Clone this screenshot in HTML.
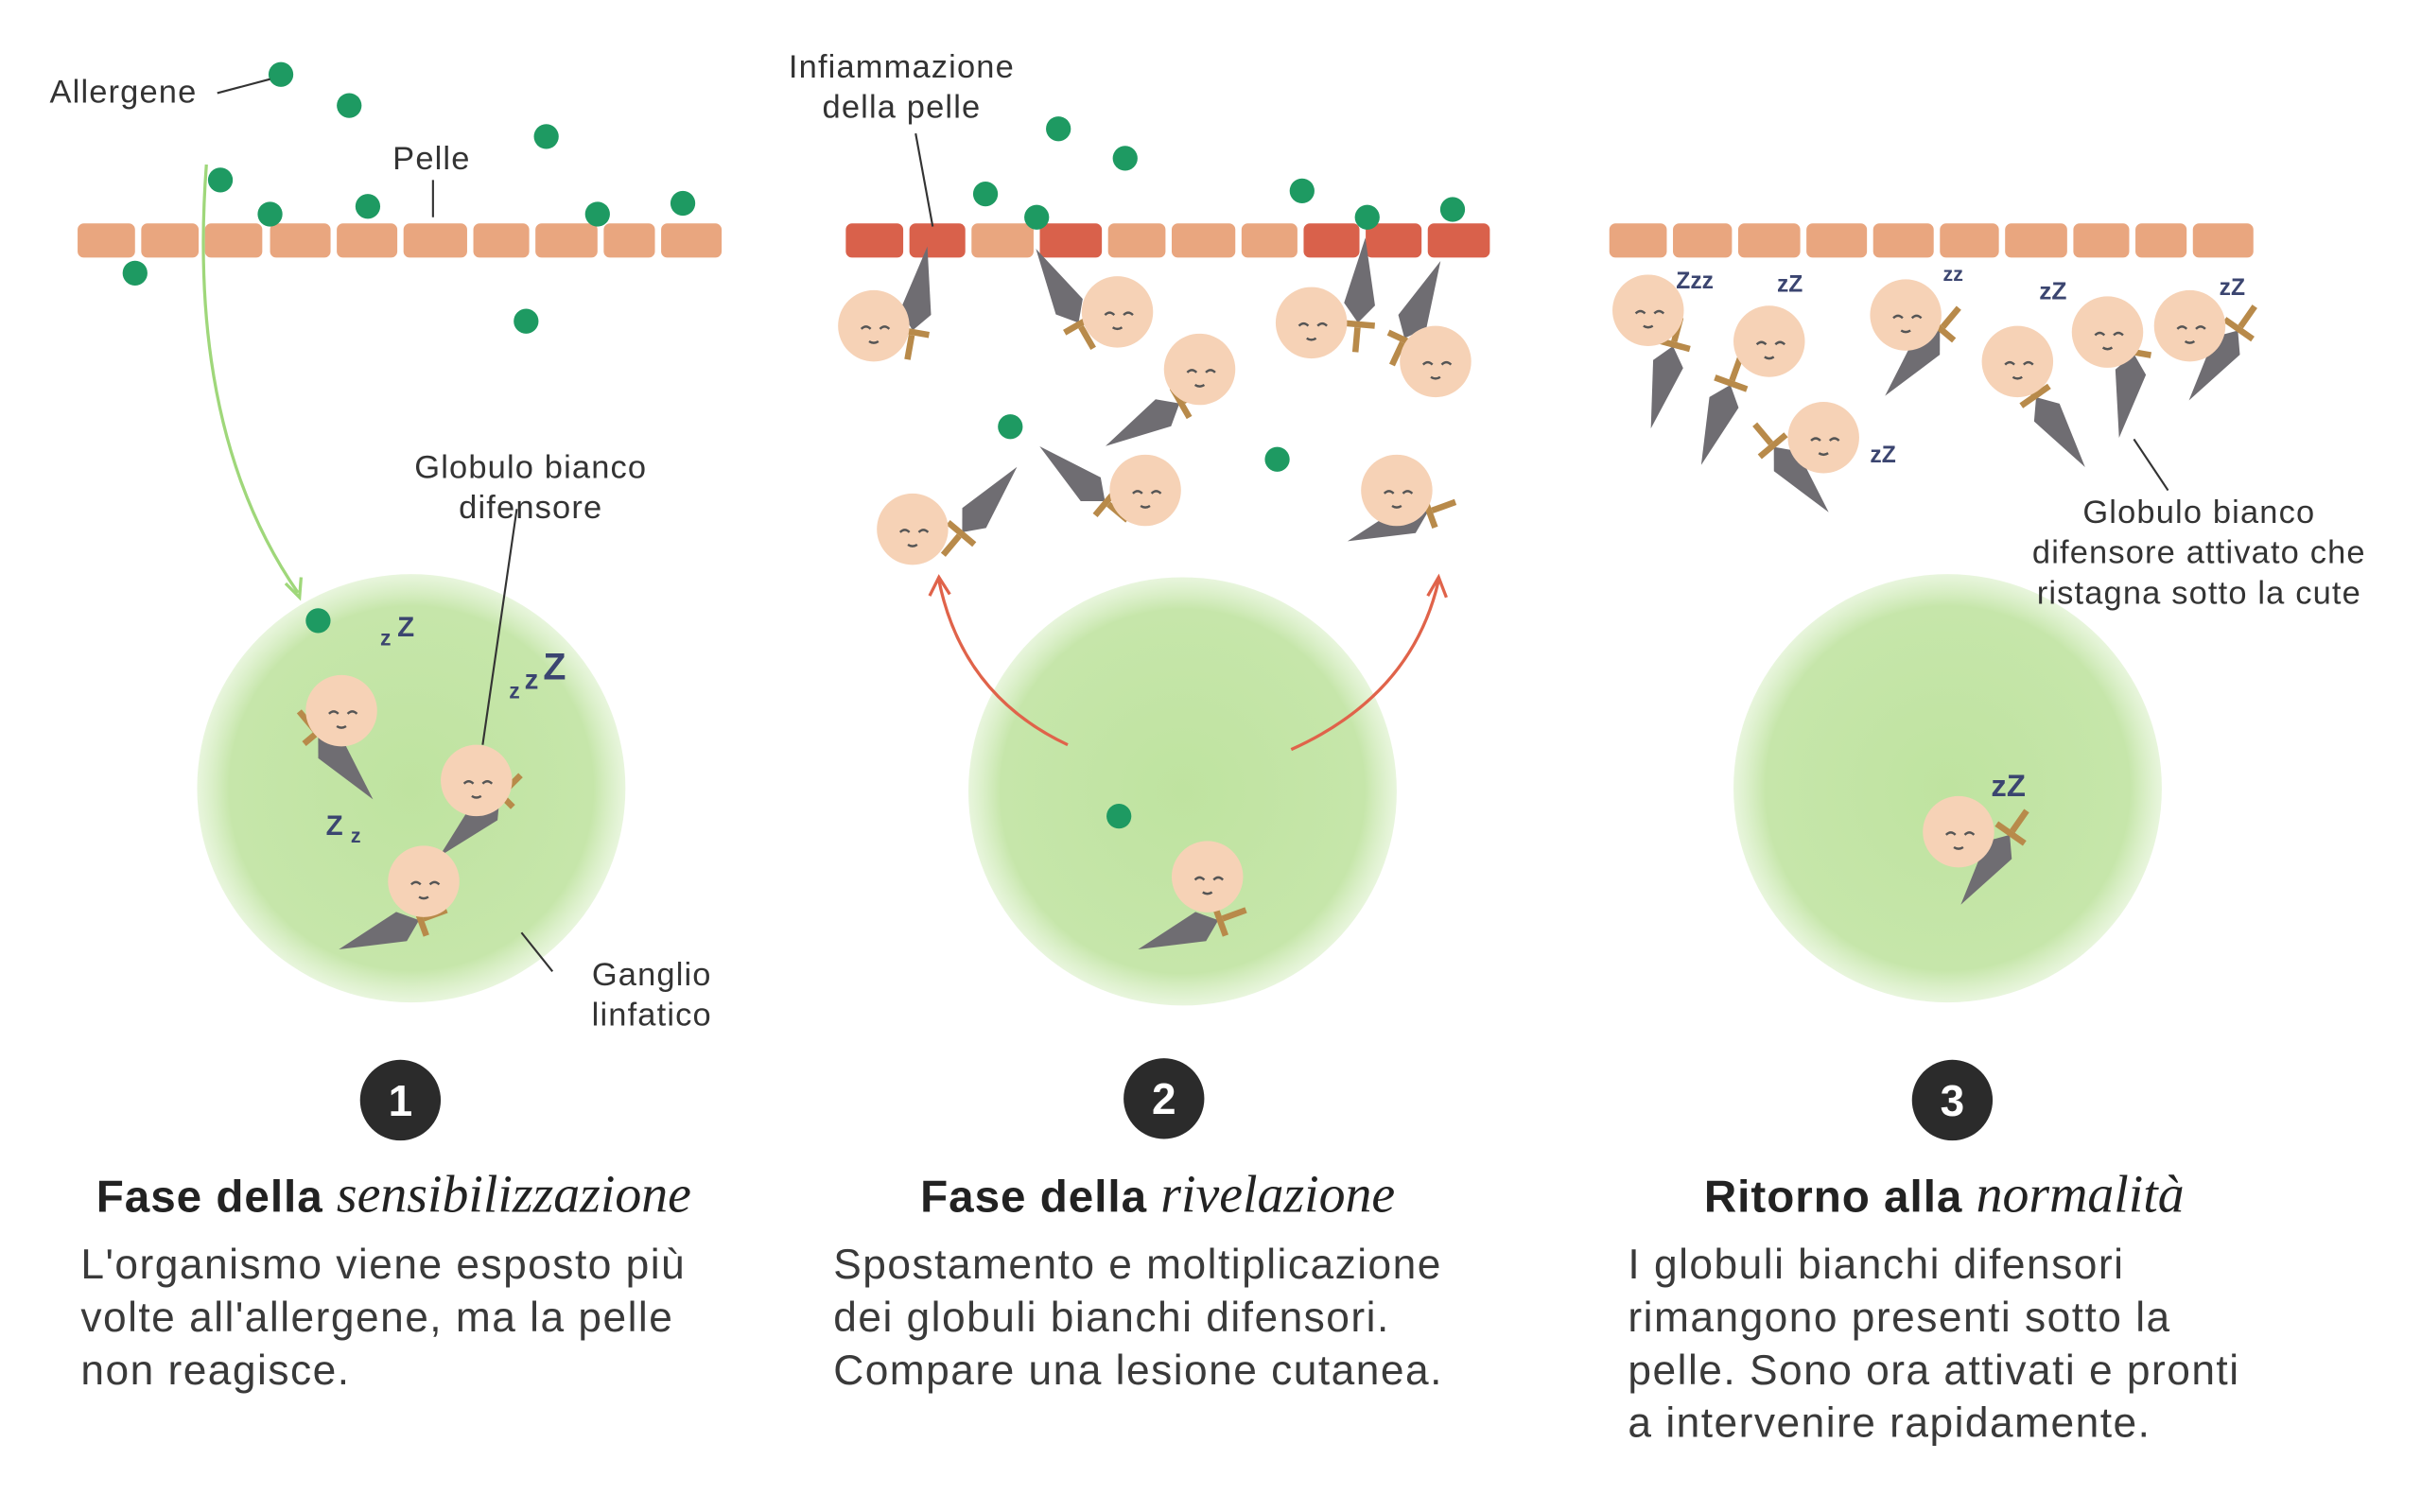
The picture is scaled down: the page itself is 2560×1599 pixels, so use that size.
<!DOCTYPE html>
<html><head><meta charset="utf-8"><style>
html,body{margin:0;padding:0;background:#fff;width:2560px;height:1599px;overflow:hidden}
svg{display:block}
text{font-family:"Liberation Sans",sans-serif;fill:#333}
.lbl{font-size:21px;letter-spacing:0.7px}
.t{font-size:29px;font-weight:bold;fill:#222;letter-spacing:0.6px}
.c{font-family:"Liberation Serif",serif;font-style:italic;font-size:34px;fill:#222}
.b{font-size:27px;fill:#3a3a3a;letter-spacing:0.9px}
</style></head><body>
<svg width="2560" height="1599" viewBox="0 0 1560 974.4" xmlns="http://www.w3.org/2000/svg">
<defs>
<radialGradient id="g" cx="50%" cy="50%" r="50%">
<stop offset="0" stop-color="#bfe3a0"/><stop offset="0.85" stop-color="#c6e6aa"/><stop offset="1" stop-color="#d9efc6" stop-opacity="0.6"/>
</radialGradient>
<g id="cell"><circle r="23" fill="#f6d2b6"/><path d="M-8,2 q3,-3 6,0 M4,2 q3,-3 6,0 M-3,10 q3,2 6,0" stroke="#555" stroke-width="1.5" fill="none"/></g>
<g id="sw"><polygon points="0,-55 10,-12 0,0 -10,-12" fill="#6f6d72"/><rect x="-11" y="-1" width="22" height="4" fill="#b88a4a"/><rect x="-2" y="3" width="4" height="16" fill="#b88a4a"/></g>
</defs>
<circle cx="265" cy="508" r="138" fill="url(#g)"/>
<circle cx="762" cy="510" r="138" fill="url(#g)"/>
<circle cx="1255" cy="508" r="138" fill="url(#g)"/>
<g transform="translate(0,-2)">
<g fill="#e9a67f">
<rect x="50" y="146" width="37" height="22" rx="4"/><rect x="91" y="146" width="37" height="22" rx="4"/><rect x="132" y="146" width="37" height="22" rx="4"/><rect x="174" y="146" width="39" height="22" rx="4"/><rect x="217" y="146" width="39" height="22" rx="4"/><rect x="260" y="146" width="41" height="22" rx="4"/><rect x="305" y="146" width="36" height="22" rx="4"/><rect x="345" y="146" width="40" height="22" rx="4"/><rect x="389" y="146" width="33" height="22" rx="4"/><rect x="426" y="146" width="39" height="22" rx="4"/>
<rect x="626" y="146" width="40" height="22" rx="4"/><rect x="714" y="146" width="37" height="22" rx="4"/><rect x="755" y="146" width="41" height="22" rx="4"/><rect x="800" y="146" width="36" height="22" rx="4"/>
<rect x="1037" y="146" width="37" height="22" rx="4"/><rect x="1078" y="146" width="38" height="22" rx="4"/><rect x="1120" y="146" width="40" height="22" rx="4"/><rect x="1164" y="146" width="39" height="22" rx="4"/><rect x="1207" y="146" width="39" height="22" rx="4"/><rect x="1250" y="146" width="38" height="22" rx="4"/><rect x="1292" y="146" width="40" height="22" rx="4"/><rect x="1336" y="146" width="36" height="22" rx="4"/><rect x="1376" y="146" width="33" height="22" rx="4"/><rect x="1413" y="146" width="39" height="22" rx="4"/>
</g>
<g fill="#d9614b">
<rect x="545" y="146" width="37" height="22" rx="4"/><rect x="586" y="146" width="36" height="22" rx="4"/><rect x="670" y="146" width="40" height="22" rx="4"/><rect x="840" y="146" width="36" height="22" rx="4"/><rect x="880" y="146" width="36" height="22" rx="4"/><rect x="920" y="146" width="40" height="22" rx="4"/>
</g>
<g fill="#1e9a62">
<circle cx="181" cy="50" r="8"/><circle cx="225" cy="70" r="8"/><circle cx="352" cy="90" r="8"/><circle cx="142" cy="118" r="8"/><circle cx="174" cy="140" r="8"/><circle cx="237" cy="135" r="8"/><circle cx="385" cy="140" r="8"/><circle cx="440" cy="133" r="8"/><circle cx="87" cy="178" r="8"/><circle cx="339" cy="209" r="8"/><circle cx="205" cy="402" r="8"/>
<circle cx="682" cy="85" r="8"/><circle cx="725" cy="104" r="8"/><circle cx="635" cy="127" r="8"/><circle cx="668" cy="142" r="8"/><circle cx="839" cy="125" r="8"/><circle cx="881" cy="142" r="8"/><circle cx="936" cy="137" r="8"/><circle cx="651" cy="277" r="8"/><circle cx="823" cy="298" r="8"/><circle cx="721" cy="528" r="8"/>
</g>
<path d="M133,108 Q120,280 192,384" stroke="#9fd77a" stroke-width="2" fill="none"/><path d="M184,378 L193,387 L194,374" stroke="#9fd77a" stroke-width="2" fill="none"/>
<path d="M688,482 Q620,450 605,376" stroke="#e0634a" stroke-width="2" fill="none"/><path d="M599,386 L605,374 L612,385" stroke="#e0634a" stroke-width="2" fill="none"/>
<path d="M832,485 Q910,450 927,376" stroke="#e0634a" stroke-width="2" fill="none"/><path d="M920,386 L927,374 L932,387" stroke="#e0634a" stroke-width="2" fill="none"/>
<g>
<use href="#sw" transform="translate(205,475) rotate(140)"/><use href="#cell" x="220" y="460"/>
<use href="#sw" transform="translate(322,515) rotate(-135)"/><use href="#cell" x="307" y="505"/>
<use href="#sw" transform="translate(270,595) rotate(-110)"/><use href="#cell" x="273" y="570"/>
<use href="#sw" transform="translate(588,215) rotate(10)"/><use href="#cell" x="563" y="212"/>
<use href="#sw" transform="translate(695,210) rotate(-30)"/><use href="#cell" x="720" y="203"/>
<use href="#sw" transform="translate(760,262) rotate(-120)"/><use href="#cell" x="773" y="240"/>
<use href="#sw" transform="translate(875,210) rotate(5)"/><use href="#cell" x="845" y="210"/>
<use href="#sw" transform="translate(905,220) rotate(25)"/><use href="#cell" x="925" y="235"/>
<use href="#sw" transform="translate(620,345) rotate(40)"/><use href="#cell" x="588" y="343"/>
<use href="#sw" transform="translate(712,325) rotate(-50)"/><use href="#cell" x="738" y="318"/>
<use href="#sw" transform="translate(920,332) rotate(-110)"/><use href="#cell" x="900" y="318"/>
<use href="#sw" transform="translate(785,595) rotate(-110)"/><use href="#cell" x="778" y="567"/>
<use href="#sw" transform="translate(1078,225) rotate(195)"/><use href="#cell" x="1062" y="202"/>
<use href="#sw" transform="translate(1115,250) rotate(200)"/><use href="#cell" x="1140" y="222"/>
<use href="#sw" transform="translate(1143,290) rotate(140)"/><use href="#cell" x="1175" y="284"/>
<use href="#sw" transform="translate(1250,215) rotate(220)"/><use href="#cell" x="1228" y="205"/>
<use href="#sw" transform="translate(1312,258) rotate(145)"/><use href="#cell" x="1300" y="235"/>
<use href="#sw" transform="translate(1375,230) rotate(190)"/><use href="#cell" x="1358" y="216"/>
<use href="#sw" transform="translate(1442,215) rotate(215)"/><use href="#cell" x="1411" y="212"/>
<use href="#sw" transform="translate(1295,540) rotate(215)"/><use href="#cell" x="1262" y="538"/>
</g>
<g font-weight="bold">
<text x="245" y="418" font-size="14" style="fill:#3b4570">z</text><text x="256" y="412" font-size="18" style="fill:#3b4570">Z</text>
<text x="328" y="452" font-size="14" style="fill:#3b4570">z</text><text x="338" y="446" font-size="18" style="fill:#3b4570">z</text><text x="350" y="440" font-size="24" style="fill:#3b4570">Z</text>
<text x="210" y="540" font-size="18" style="fill:#3b4570">Z</text><text x="226" y="545" font-size="13" style="fill:#3b4570">z</text>
<text x="1080" y="188" font-size="15" style="fill:#3b4570">Zzz</text><text x="1145" y="190" font-size="15" style="fill:#3b4570">zZ</text><text x="1252" y="183" font-size="13" style="fill:#3b4570">zz</text><text x="1314" y="195" font-size="16" style="fill:#3b4570">zZ</text><text x="1430" y="192" font-size="15" style="fill:#3b4570">zZ</text><text x="1205" y="300" font-size="15" style="fill:#3b4570">zZ</text><text x="1283" y="515" font-size="20" style="fill:#3b4570">zZ</text>
</g>
<g stroke="#333" stroke-width="1.3" fill="none">
<path d="M140,62 L174,53"/><path d="M279,118 L279,142"/><path d="M333,330 L311,482"/><path d="M336,603 L356,628"/><path d="M590,88 L601,148"/><path d="M1375,285 L1397,318"/>
</g>
<text class="lbl" x="32" y="68">Allergene</text>
<text class="lbl" x="253" y="111">Pelle</text>
<text class="lbl" x="342" y="310" text-anchor="middle">Globulo bianco</text>
<text class="lbl" x="342" y="336" text-anchor="middle">difensore</text>
<text class="lbl" x="420" y="637" text-anchor="middle">Ganglio</text>
<text class="lbl" x="420" y="663" text-anchor="middle">linfatico</text>
<text class="lbl" x="581" y="52" text-anchor="middle">Infiammazione</text>
<text class="lbl" x="581" y="78" text-anchor="middle">della pelle</text>
<text class="lbl" x="1417" y="339" text-anchor="middle">Globulo bianco</text>
<text class="lbl" x="1417" y="365" text-anchor="middle">difensore attivato che</text>
<text class="lbl" x="1417" y="391" text-anchor="middle">ristagna sotto la cute</text>
</g>
<g transform="translate(0,-4)">
<circle cx="258" cy="713" r="26" fill="#2b2b2b"/><text x="258" y="723" text-anchor="middle" font-size="28" font-weight="bold" style="fill:#fff">1</text>
<circle cx="750" cy="712" r="26" fill="#2b2b2b"/><text x="750" y="722" text-anchor="middle" font-size="28" font-weight="bold" style="fill:#fff">2</text>
<circle cx="1258" cy="713" r="26" fill="#2b2b2b"/><text x="1258" y="723" text-anchor="middle" font-size="28" font-weight="bold" style="fill:#fff">3</text>
<text x="62" y="785"><tspan class="t">Fase della </tspan><tspan class="c">sensibilizzazione</tspan></text>
<text x="593" y="785"><tspan class="t">Fase della </tspan><tspan class="c">rivelazione</tspan></text>
<text x="1098" y="785"><tspan class="t">Ritorno alla </tspan><tspan class="c">normalità</tspan></text>
<text class="b" x="52" y="828">L'organismo viene esposto più</text>
<text class="b" x="52" y="862">volte all'allergene, ma la pelle</text>
<text class="b" x="52" y="896">non reagisce.</text>
<text class="b" x="537" y="828">Spostamento e moltiplicazione</text>
<text class="b" x="537" y="862">dei globuli bianchi difensori.</text>
<text class="b" x="537" y="896">Compare una lesione cutanea.</text>
<text class="b" x="1049" y="828">I globuli bianchi difensori</text>
<text class="b" x="1049" y="862">rimangono presenti sotto la</text>
<text class="b" x="1049" y="896">pelle. Sono ora attivati e pronti</text>
<text class="b" x="1049" y="930">a intervenire rapidamente.</text>
</g>
</svg>
</body></html>
